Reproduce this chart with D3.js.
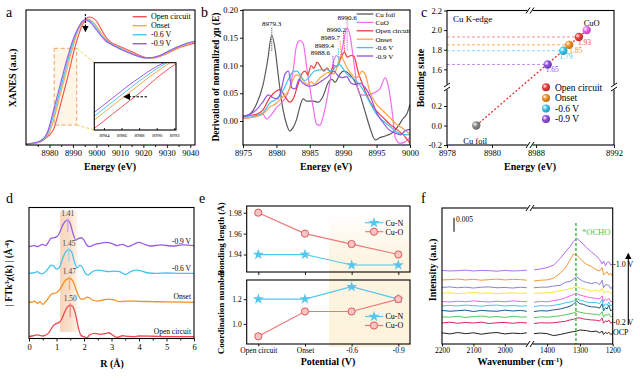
<!DOCTYPE html>
<html>
<head>
<meta charset="utf-8">
<script src="https://cdn.jsdelivr.net/npm/d3@7/dist/d3.min.js"></script>
<style>
html,body{margin:0;padding:0;background:#fff;}
svg{display:block;}
text{font-family:"Liberation Serif","Times New Roman",Times,serif;}
</style>
</head>
<body>
<svg id="fig" width="640" height="380"></svg>
<script>
// ================= DATA =================
// ---- (a) XANES ----
const aNames = ["Open circuit","Onset","-0.6 V","-0.9 V"];
const aE = [8970,8973,8976,8977,8978,8979,8980,8981,8982,8983,8984,8985,8986,8987,8988,8989,8990,8991,8992,8993,8994,8995,8996,8997,8998,9000,9002,9004,9006,9008,9010,9012,9015,9018,9021,9024,9027,9030,9033,9036,9039,9042];
const aOC    = [0.01,0.015,0.03,0.045,0.06,0.08,0.10,0.13,0.17,0.25,0.34,0.43,0.52,0.61,0.70,0.80,0.90,0.99,1.07,1.14,1.20,1.24,1.27,1.28,1.275,1.24,1.16,1.08,1.03,1.005,0.985,0.965,0.935,0.90,0.875,0.87,0.885,0.915,0.95,0.98,1.0,1.02];
const aOnset = [0.01,0.017,0.033,0.05,0.068,0.095,0.13,0.19,0.27,0.36,0.45,0.54,0.63,0.72,0.81,0.90,0.98,1.06,1.13,1.18,1.22,1.25,1.26,1.255,1.24,1.19,1.12,1.06,1.02,0.995,0.97,0.95,0.92,0.89,0.87,0.87,0.89,0.92,0.955,0.985,1.01,1.03];
const a06    = [0.01,0.018,0.037,0.052,0.074,0.11,0.16,0.24,0.32,0.41,0.50,0.59,0.68,0.77,0.86,0.94,1.02,1.09,1.15,1.20,1.235,1.255,1.255,1.245,1.23,1.17,1.10,1.05,1.015,0.99,0.965,0.945,0.915,0.885,0.87,0.875,0.895,0.93,0.965,0.995,1.02,1.04];
const a09    = [0.01,0.02,0.04,0.055,0.08,0.12,0.19,0.28,0.37,0.46,0.55,0.64,0.73,0.82,0.90,0.98,1.05,1.11,1.16,1.20,1.235,1.25,1.245,1.235,1.21,1.15,1.09,1.04,1.01,0.985,0.96,0.94,0.91,0.885,0.87,0.875,0.895,0.93,0.965,0.995,1.02,1.035];
const aTicks = [8980,8990,9000,9010,9020,9030,9040];
const aInsetTicks = [8984,8986,8988,8990,8992];

// ---- (b) derivative ----
const bNames = ["Cu foil","CuO","Open circuit","Onset","-0.6 V","-0.9 V"];
const bCuFoil = [[8975,0.008],[8976,0.012],[8977,0.03],[8978,0.065],[8978.7,0.11],[8979.3,0.155],[8979.8,0.13],[8980.3,0.08],[8981,0.02],[8981.5,-0.005],[8982,-0.018],[8982.5,-0.012],[8983,0.002],[8983.5,0.025],[8984,0.04],[8984.5,0.036],[8985.5,0.036],[8986.3,0.034],[8987,0.045],[8987.7,0.068],[8988.3,0.075],[8988.8,0.07],[8989.4,0.082],[8990,0.09],[8990.6,0.088],[8991.2,0.08],[8991.8,0.07],[8992.5,0.048],[8993.2,0.02],[8994,-0.012],[8994.8,-0.034],[8995.5,-0.03],[8996.5,-0.026],[8997.5,-0.02],[8998.3,-0.008],[8999,0.005],[8999.5,0.012],[9000,0.03]];
const bCuO = [[8975,0.005],[8976,0.006],[8977,0.01],[8978,0.012],[8978.5,0.004],[8979,0.008],[8980,0.024],[8981,0.036],[8982,0.06],[8982.5,0.09],[8983,0.135],[8983.5,0.145],[8984,0.14],[8984.5,0.1],[8985,0.06],[8985.5,0.025],[8986,-0.005],[8986.5,-0.008],[8987,0.008],[8987.5,0.035],[8988,0.07],[8988.5,0.105],[8989,0.118],[8989.5,0.112],[8990,0.14],[8990.6,0.168],[8991,0.155],[8991.5,0.115],[8992,0.07],[8992.5,0.048],[8993.5,0.046],[8994.5,0.05],[8995.5,0.058],[8996.3,0.078],[8996.8,0.06],[8997.3,0.02],[8997.8,-0.03],[8998.5,-0.04],[8999.2,-0.038],[9000,-0.03]];
const bOC = [[8975,0.008],[8976,0.01],[8977,0.012],[8978,0.02],[8979,0.042],[8980,0.054],[8980.6,0.057],[8981.2,0.046],[8982,0.034],[8982.6,0.042],[8983.2,0.065],[8983.8,0.085],[8984.3,0.09],[8984.7,0.083],[8985.2,0.1],[8985.6,0.095],[8986.1,0.106],[8986.6,0.098],[8987.1,0.09],[8987.6,0.096],[8988.1,0.088],[8988.6,0.1],[8989.1,0.098],[8989.6,0.112],[8990.2,0.124],[8990.6,0.115],[8991.2,0.118],[8991.6,0.117],[8992.2,0.09],[8993,0.063],[8994,0.035],[8995,0.018],[8996,0.006],[8997,-0.006],[8998,-0.015],[8999,-0.025],[9000,-0.04]];
const bOnset = [[8975,0.005],[8976,0.006],[8977,0.008],[8978,0.013],[8979,0.025],[8980,0.032],[8981,0.044],[8982,0.058],[8982.5,0.075],[8983,0.083],[8983.6,0.08],[8984.2,0.07],[8984.7,0.066],[8985.2,0.071],[8985.7,0.066],[8986.3,0.075],[8987,0.082],[8987.6,0.087],[8988.1,0.088],[8988.6,0.085],[8989.1,0.098],[8989.7,0.118],[8990.1,0.108],[8990.6,0.095],[8991.2,0.085],[8991.8,0.078],[8992.3,0.08],[8992.8,0.09],[8993.3,0.084],[8994,0.052],[8995,0.03],[8996,0.018],[8997,0.006],[8998,-0.006],[8999,-0.014],[9000,-0.024]];
const b06 = [[8975,0.008],[8976,0.009],[8977,0.01],[8978,0.015],[8979,0.032],[8980,0.04],[8981,0.055],[8982,0.08],[8982.6,0.09],[8983.1,0.09],[8983.6,0.082],[8984.2,0.073],[8984.7,0.076],[8985.2,0.084],[8985.7,0.09],[8986.5,0.092],[8987.5,0.093],[8988.2,0.09],[8988.7,0.096],[8989.4,0.102],[8990,0.094],[8990.5,0.085],[8991,0.08],[8992,0.072],[8993,0.056],[8994,0.033],[8995,0.012],[8996,0.0],[8997,-0.01],[8998,-0.02],[8999,-0.024],[9000,-0.025]];
const b09 = [[8975,0.008],[8976,0.012],[8977,0.02],[8978,0.035],[8978.8,0.047],[8979.5,0.042],[8980.2,0.04],[8980.8,0.06],[8981.3,0.085],[8981.8,0.09],[8982.3,0.06],[8982.8,0.058],[8983.4,0.075],[8984,0.068],[8984.8,0.063],[8985.6,0.064],[8986.3,0.068],[8987,0.074],[8987.7,0.08],[8988.6,0.09],[8989.2,0.082],[8989.8,0.078],[8990.5,0.08],[8991.2,0.068],[8991.8,0.066],[8992.5,0.068],[8993.3,0.06],[8994.2,0.04],[8995,0.015],[8995.8,0.0],[8996.8,-0.015],[8997.8,-0.022],[8998.6,-0.025],[8999.3,-0.017],[9000,-0.015]];
const bPeakE = [8979.3, 8990.6, 8990.2, 8989.7, 8989.4, 8988.6];
const bPeakV = [0.155, 0.168, 0.124, 0.118, 0.102, 0.09];
const bXTicks = [8975,8980,8985,8990,8995,9000];
const bYTicks = [0.00,0.05,0.10,0.15,0.20];

// ---- (c) bonding state ----
const cNames = ["Open circuit","Onset","-0.6 V","-0.9 V"];
const cEnergy = [8990.2, 8989.7, 8989.4, 8988.6];
const cState  = [1.93, 1.85, 1.79, 1.65];
const cRefNames = ["Cu foil","CuO"];
const cRefEnergy = [8979.3, 8990.6];
const cRefState  = [0.0, 2.0];
const cXTicksLeft = [8978, 8980];
const cXTicksRight = [8988, 8992];
const cYTicksUpper = [1.6, 1.8, 2.0, 2.2];
const cYTicksLower = [-0.2, 0.0, 0.2];

// ---- (d) FT-EXAFS ----
const dNames = ["Open circuit","Onset","-0.6 V","-0.9 V"];
const dOC = [[0,0.05],[0.15,0.12],[0.3,0.18],[0.5,0.1],[0.7,0.3],[0.9,0.93],[1.0,1.06],[1.1,1.14],[1.2,1.44],[1.3,1.95],[1.4,2.32],[1.5,2.45],[1.6,2.32],[1.7,1.7],[1.8,0.68],[1.9,0.13],[2.0,0.05],[2.1,-0.05],[2.2,0.18],[2.4,0.3],[2.6,0.23],[2.8,0.3],[2.9,0.35],[3.0,0.23],[3.2,0.0],[3.4,0.12],[3.6,0.08],[3.8,0.05],[4.0,0.1],[4.5,0.08],[5.0,0.05],[5.5,0.05],[6.0,0.05]];
const dOnset = [[0,0.05],[0.1,0.0],[0.2,0.1],[0.3,-0.08],[0.4,0.05],[0.5,-0.15],[0.6,0.05],[0.7,0.3],[0.8,0.6],[0.9,0.68],[1.0,0.73],[1.1,0.93],[1.2,1.26],[1.3,1.62],[1.4,1.79],[1.47,1.84],[1.6,1.62],[1.7,1.06],[1.8,0.5],[1.9,0.25],[2.0,0.25],[2.1,0.4],[2.2,0.35],[2.3,0.18],[2.5,0.1],[2.7,0.18],[2.9,0.25],[3.1,0.18],[3.3,0.05],[3.5,0.1],[4.0,0.08],[4.5,0.05],[5.0,0.03],[6.0,0.0]];
const d06 = [[0,0.05],[0.2,0.1],[0.3,0.18],[0.4,0.05],[0.5,0.03],[0.6,0.18],[0.7,0.43],[0.8,0.68],[0.9,0.6],[1.0,0.38],[1.1,0.48],[1.2,1.06],[1.3,1.57],[1.4,1.82],[1.45,1.87],[1.55,1.69],[1.65,0.93],[1.75,0.48],[1.85,0.68],[1.95,0.48],[2.05,0.05],[2.15,-0.08],[2.3,0.18],[2.5,0.3],[2.7,0.25],[2.9,0.18],[3.1,0.23],[3.3,0.18],[3.5,-0.03],[3.7,0.18],[3.9,0.3],[4.1,0.23],[4.3,0.1],[4.6,0.05],[5.0,0.08],[5.5,0.05],[6.0,0.05]];
const d09 = [[0,0.05],[0.2,0.13],[0.3,0.05],[0.5,0.23],[0.6,0.13],[0.7,0.38],[0.8,0.68],[0.9,0.73],[1.0,0.8],[1.1,1.06],[1.2,1.57],[1.3,1.94],[1.41,2.07],[1.5,1.82],[1.6,1.06],[1.7,0.55],[1.8,0.68],[1.9,0.73],[2.0,0.55],[2.1,0.18],[2.2,0.05],[2.4,0.23],[2.6,0.3],[2.8,0.38],[3.0,0.3],[3.2,0.13],[3.4,0.23],[3.6,0.05],[3.8,0.23],[4.0,0.38],[4.2,0.23],[4.4,0.1],[4.8,0.18],[5.2,0.1],[5.6,0.18],[6.0,0.13]];
const dOffsets = [0.09, 2.76, 4.92, 6.96];
const dPeakR = [1.50, 1.47, 1.45, 1.41];
const dPeakLabels = ["1.50","1.47","1.45","1.41"];
const dXTicks = [0,1,2,3,4,5,6];

// ---- (e) fitting results ----
const eCats = ["Open circuit","Onset","-0.6","-0.9"];
const eLenCuN = [1.94, 1.94, 1.93, 1.93];
const eLenCuO = [1.98, 1.96, 1.95, 1.94];
const eCnCuN  = [1.2, 1.2, 1.3, 1.2];
const eCnCuO  = [0.9, 1.1, 1.1, 1.2];
const eLenTicks = [1.94, 1.96, 1.98];
const eCnTicks = [1.0, 1.2];

// ---- (f) in-situ IR ----
const fLeftW = [2200,2175,2150,2125,2100,2075,2050,2025,2000,1975,1950,1930];
const fRightW = [1440,1420,1400,1380,1360,1345,1330,1320,1310,1300,1290,1280,1265,1250,1240,1232,1228,1222,1217,1212,1206,1200];
const fOffsets = [3.8, 7.5, 9.6, 11.8, 13.6, 15.1, 18.1, 20.1, 22.9, 26.1];
const fLeft = [
 [0.2,-0.2,0.3,-0.1,0.2,-0.3,0.1,0.3,-0.2,0.1,-0.1,0.2],
 [0.0,0.3,-0.1,0.2,0.0,0.3,-0.2,0.1,0.2,-0.1,0.2,0.0],
 [0.1,0.0,0.3,-0.1,0.2,0.4,0.0,0.2,-0.1,0.3,0.0,0.1],
 [0.2,-0.1,0.1,0.3,-0.2,0.2,0.0,-0.1,0.3,0.0,0.2,-0.1],
 [0.0,0.2,0.0,0.3,0.1,-0.1,0.2,0.3,0.0,0.2,-0.1,0.1],
 [0.1,-0.1,0.2,0.0,0.3,0.1,-0.1,0.2,0.0,0.3,0.1,0.0],
 [0.0,0.2,-0.1,0.1,0.3,0.0,0.2,-0.1,0.1,0.2,0.0,0.1],
 [0.1,0.3,0.0,0.2,-0.1,0.2,0.3,0.0,0.1,-0.1,0.2,0.0],
 [0.0,0.1,0.3,0.0,0.2,-0.1,0.1,0.3,0.0,0.2,0.1,-0.1],
 [0.2,0.0,0.1,0.3,0.0,0.2,0.1,-0.1,0.2,0.0,0.1,0.3]
];
const fRight = [
 [-0.1,0.1,-0.1,-0.8,-0.4,0.0,0.4,0.6,0.8,1.2,1.1,1.0,0.6,0.8,0.2,0.8,-0.4,0.4,-0.1,0.4,-0.4,0.0],
 [-0.2,0.1,0.0,0.1,0.4,0.6,1.1,1.3,1.8,1.8,1.5,1.3,1.1,1.0,0.7,1.8,-0.1,0.8,0.4,1.1,-0.1,0.4],
 [-0.2,0.1,0.0,0.2,0.5,0.8,1.2,1.5,2.0,1.8,1.5,1.3,1.1,1.0,0.7,2.0,0.0,1.0,0.6,1.2,0.1,0.4],
 [-0.2,0.1,0.0,0.4,0.7,1.2,1.7,2.4,3.6,2.6,2.4,1.9,1.5,1.4,1.0,2.6,0.0,1.2,0.7,2.1,0.0,0.7],
 [-0.2,0.1,0.0,0.2,0.6,1.1,1.4,1.7,2.6,2.0,1.8,1.4,1.2,1.2,0.8,2.4,-0.4,0.8,0.2,1.4,0.0,0.5],
 [-0.2,0.1,0.0,0.4,0.8,1.4,2.1,2.6,2.9,2.4,2.1,1.8,1.4,1.2,1.0,2.1,0.0,1.0,0.5,1.2,0.0,0.2],
 [0.0,0.1,0.2,0.4,1.0,1.2,1.7,1.9,2.4,1.9,1.7,1.3,0.8,1.2,0.6,1.8,0.0,0.8,0.4,0.8,0.0,0.4],
 [0.0,0.2,0.2,0.6,0.9,1.9,2.3,3.0,3.9,3.0,2.3,1.9,1.5,1.9,1.1,2.7,0.0,1.1,1.0,0.9,-0.3,0.3],
 [-0.4,-0.1,0.0,0.6,2.4,4.2,7.1,9.2,9.0,7.7,6.5,5.6,4.8,3.6,3.2,4.4,1.8,2.4,2.9,1.8,2.4,1.2],
 [0.4,0.7,1.2,2.1,4.5,6.7,8.7,10.5,11.7,10.7,9.6,8.4,6.8,5.4,4.1,2.5,3.6,1.9,3.0,3.3,2.1,2.5]
];
const fOCHO = 1312;
const fTicksLeft = [2200, 2100, 2000];
const fTicksRight = [1400, 1300, 1200];

// ================= DRAWING =================
const FONT = '"Liberation Serif","Times New Roman",Times,serif';
const col4 = ["#f0525a","#f8a94a","#52c6f0","#9a5ae6"];
const svg = d3.select("#fig");
svg.append("rect").attr("width",640).attr("height",380).attr("fill","#fff");
const defs = svg.append("defs");

function clip(id,x0,y0,x1,y1){ defs.append("clipPath").attr("id",id).append("rect").attr("x",x0).attr("y",y0).attr("width",x1-x0).attr("height",y1-y0); return `url(#${id})`; }
function frame(x0,y0,x1,y1){ return svg.append("rect").attr("x",x0).attr("y",y0).attr("width",x1-x0).attr("height",y1-y0).attr("fill","none").attr("stroke","#000").attr("stroke-width",1.1); }
function T(x,y,s,o={}){ const t=svg.append("text").attr("x",x).attr("y",y).attr("font-size",o.size||8).attr("fill",o.fill||"#000").attr("text-anchor",o.anchor||"start").text(s); if(o.bold) t.attr("font-weight","bold"); if(o.rot!==undefined) t.attr("transform",`rotate(${o.rot},${x},${y})`); return t; }
function styleAxis(g,size){ g.select(".domain").remove(); g.selectAll(".tick line").attr("stroke","#000").attr("stroke-width",0.9); g.selectAll(".tick text").attr("font-size",size).attr("fill","#000").attr("font-family",FONT); }
function axisB(scale,y,vals,fmt,size,len,pad){ return svg.append("g").attr("transform",`translate(0,${y})`).call(d3.axisBottom(scale).tickValues(vals).tickSize(len||3).tickPadding(pad===undefined?2:pad).tickFormat(fmt)).call(styleAxis,size); }
function axisL(scale,x,vals,fmt,size,len){ return svg.append("g").attr("transform",`translate(${x},0)`).call(d3.axisLeft(scale).tickValues(vals).tickSize(len||3).tickPadding(2).tickFormat(fmt)).call(styleAxis,size); }
const fmtN = p => (d => d.toFixed(p));
const none = () => "";
function marker(id,color){ defs.append("marker").attr("id",id).attr("viewBox","0 0 10 10").attr("refX",5).attr("refY",5).attr("markerWidth",6).attr("markerHeight",6).attr("orient","auto").append("path").attr("d","M0,0L10,5L0,10z").attr("fill",color); }
marker("arrK","#000");
function sphere(id,color){ const g=defs.append("radialGradient").attr("id",id).attr("cx","35%").attr("cy","35%").attr("r","65%"); g.append("stop").attr("offset","0%").attr("stop-color","#fff"); g.append("stop").attr("offset","45%").attr("stop-color",color); g.append("stop").attr("offset","100%").attr("stop-color",d3.color(color).darker(0.8)); return `url(#${id})`; }
function brkV(x,y){ svg.append("rect").attr("x",x-2.5).attr("y",y-2).attr("width",5).attr("height",4).attr("fill","#fff"); [-2,2].forEach(d=>svg.append("line").attr("x1",x+d-2).attr("y1",y+3).attr("x2",x+d+2).attr("y2",y-3).attr("stroke","#000").attr("stroke-width",1)); }
function brkH(x,y){ svg.append("rect").attr("x",x-2).attr("y",y-2.5).attr("width",4).attr("height",5).attr("fill","#fff"); [-2,2].forEach(d=>svg.append("line").attr("x1",x-3).attr("y1",y+d+2).attr("x2",x+3).attr("y2",y+d-2).attr("stroke","#000").attr("stroke-width",1)); }

// ---------- (a) ----------
{
 const xa = d3.scaleLinear().domain([8970,9042]).range([26,195]);
 const ya = d3.scaleLinear().domain([0,1.35]).range([145,10]);
 const cp = clip("clipA",26,10,195,145);
 svg.append("rect").attr("x",xa(8982)).attr("y",ya(0.967)).attr("width",xa(8991.6)-xa(8982)).attr("height",ya(0.2)-ya(0.967))
   .attr("fill","#fef6e6").attr("stroke","#f6a060").attr("stroke-width",1).attr("stroke-dasharray","4,2.5");
 const g = svg.append("g").attr("clip-path",cp);
 const aSer = [aOC,aOnset,a06,a09];
 const ln = d3.line().x(d=>xa(d[0])).y(d=>ya(d[1])).curve(d3.curveMonotoneX);
 aSer.forEach((v,i)=>g.append("path").datum(aE.map((e,j)=>[e,v[j]])).attr("d",ln).attr("fill","none").attr("stroke",col4[i]).attr("stroke-width",1.1));
 const ix0=94.3, iy0=62.7, ix1=176, iy1=130;
 svg.append("line").attr("x1",xa(8991.6)).attr("y1",ya(0.967)).attr("x2",ix0).attr("y2",iy0).attr("stroke","#f5c642").attr("stroke-width",1).attr("stroke-dasharray","3,2");
 svg.append("line").attr("x1",xa(8991.6)).attr("y1",ya(0.2)).attr("x2",ix0).attr("y2",iy1).attr("stroke","#f5c642").attr("stroke-width",1).attr("stroke-dasharray","3,2");
 svg.append("rect").attr("x",ix0).attr("y",iy0).attr("width",ix1-ix0).attr("height",iy1-iy0).attr("fill","#fff");
 const xi = d3.scaleLinear().domain([8982.9,8992.2]).range([ix0,ix1]);
 const yi = d3.scaleLinear().domain([0.22,1.1]).range([iy1,iy0]);
 const cpi = clip("clipAi",ix0,iy0,ix1,iy1);
 const gi = svg.append("g").attr("clip-path",cpi);
 const lni = d3.line().x(d=>xi(d[0])).y(d=>yi(d[1])).curve(d3.curveMonotoneX);
 aSer.forEach((v,i)=>gi.append("path").datum(aE.map((e,j)=>[e,v[j]])).attr("d",lni).attr("fill","none").attr("stroke",col4[i]).attr("stroke-width",1));
 frame(ix0,iy0,ix1,iy1);
 svg.append("g").attr("transform",`translate(0,${iy1})`).call(d3.axisBottom(xi).tickValues(aInsetTicks).tickSize(-2).tickPadding(3).tickFormat(d3.format("d"))).call(styleAxis,5);
 svg.append("line").attr("x1",xi(8988.9)).attr("x2",xi(8986.6)).attr("y1",yi(0.655)).attr("y2",yi(0.655)).attr("stroke","#000").attr("stroke-width",1.2).attr("stroke-dasharray","2.5,1.5").attr("marker-end","url(#arrK)");
 svg.append("line").attr("x1",xa(8995.3)).attr("x2",xa(8995.3)).attr("y1",ya(1.31)).attr("y2",ya(1.16)).attr("stroke","#000").attr("stroke-width",1.1).attr("stroke-dasharray","2,1.5").attr("marker-end","url(#arrK)");
 frame(26,10,195,145);
 axisB(xa,145,aTicks,d3.format("d"),8.5,3);
 axisB(xa,145,[8975,8985,8995,9005,9015,9025,9035],none,8.5,2);
 aNames.forEach((n,i)=>{ const y=16.7+9*i; svg.append("line").attr("x1",132.7).attr("x2",146.7).attr("y1",y).attr("y2",y).attr("stroke",col4[i]).attr("stroke-width",1.4); T(151,y+2.7,n,{size:8}); });
 T(16,78,"XANES (a.u.)",{size:10,bold:true,anchor:"middle",rot:-90});
 T(110,170,"Energy (eV)",{size:10,bold:true,anchor:"middle"});
 T(6,17,"a",{size:14});
}

// ---------- (b) ----------
{
 const xb = d3.scaleLinear().domain([8975,9000]).range([243,410]);
 const yb = d3.scaleLinear().domain([-0.0432,0.2]).range([145,10]);
 const cp = clip("clipB",243,10,410,145);
 const g = svg.append("g").attr("clip-path",cp);
 const bCols = ["#5a5a5a","#f46cf0","#f23a3a","#f9a440","#3fc4f0","#9050e6"];
 const bSer = [bCuFoil,bCuO,bOC,bOnset,b06,b09];
 const ln = d3.line().x(d=>xb(d[0])).y(d=>yb(d[1])).curve(d3.curveMonotoneX);
 bSer.forEach((s,i)=>g.append("path").datum(s).attr("d",ln).attr("fill","none").attr("stroke",bCols[i]).attr("stroke-width",1.2));
 svg.append("line").attr("x1",xb(bPeakE[0])).attr("x2",xb(bPeakE[0])).attr("y1",yb(0.168)).attr("y2",yb(0.126)).attr("stroke","#777").attr("stroke-width",1.2).attr("stroke-dasharray","1.2,1");
 svg.append("line").attr("x1",xb(bPeakE[1])).attr("x2",xb(bPeakE[1])).attr("y1",yb(0.182)).attr("y2",yb(0.126)).attr("stroke","#f46cf0").attr("stroke-width",1.2).attr("stroke-dasharray","1.2,1");
 T(xb(bPeakE[0]),26,"8979.3",{size:7,anchor:"middle"});
 T(xb(bPeakE[1]),19.5,"8990.6",{size:7,anchor:"middle"});
 const lblEnd = [346, 340, 334, 330];
 const lblY = [31.5, 40, 47.5, 55];
 [2,3,4,5].forEach((k,j)=>{
   T(lblEnd[j],lblY[j],bPeakE[k].toFixed(1),{size:7,anchor:"end"});
   svg.append("line").attr("x1",xb(bPeakE[k])-1).attr("y1",lblY[j]+1).attr("x2",xb(bPeakE[k])).attr("y2",Math.max(yb(bPeakV[k]),lblY[j]+6)).attr("stroke",bCols[k]).attr("stroke-width",1).attr("stroke-dasharray","1.5,1");
 });
 frame(243,10,410,145);
 axisB(xb,145,bXTicks,d3.format("d"),8.5,3);
 axisL(yb,243,bYTicks,fmtN(2),8.5,3);
 bNames.forEach((n,i)=>{ const y=14+8.4*i; svg.append("line").attr("x1",356.7).attr("x2",373.3).attr("y1",y).attr("y2",y).attr("stroke",bCols[i]).attr("stroke-width",1.3); T(375.5,y+2.5,n,{size:7}); });
 T(219,77,"Derivation of normalized χμ (E)",{size:9.5,bold:true,anchor:"middle",rot:-90});
 T(326,170,"Energy (eV)",{size:10,bold:true,anchor:"middle"});
 T(201,17,"b",{size:14});
}

// ---------- (c) ----------
{
 const xc1 = d3.scaleLinear().domain([8978,8981.6]).range([447,528]);
 const xc2 = d3.scaleLinear().domain([8987.8,8992]).range([532.1,614]);
 const xc = e => e < 8985 ? xc1(e) : xc2(e);
 const yc1 = d3.scaleLinear().domain([1.42,2.2]).range([87,10.5]);
 const yc2 = d3.scaleLinear().domain([-0.2,0.395]).range([145,87]);
 const yc = v => v > 1 ? yc1(v) : yc2(v);
 const cCols = ["#f03c3c","#f7941d","#3cc8f0","#9050e0"];
 const cLight = ["#f59090","#f7b060","#8ad8f5","#b890ee"];
 cState.forEach((s,i)=>svg.append("line").attr("x1",447).attr("x2",xc(cEnergy[i])).attr("y1",yc(s)).attr("y2",yc(s)).attr("stroke",cLight[i]).attr("stroke-width",1).attr("stroke-dasharray","3,2"));
 svg.append("line").attr("x1",xc(cRefEnergy[0])).attr("y1",yc(cRefState[0])).attr("x2",xc(cRefEnergy[1])).attr("y2",yc(cRefState[1])).attr("stroke","#e03038").attr("stroke-width",1.3).attr("stroke-dasharray","2,2");
 const refCols = ["#8a8a8a","#f060f0"];
 cRefEnergy.forEach((e,i)=>svg.append("circle").attr("cx",xc(e)).attr("cy",yc(cRefState[i])).attr("r",4.2).attr("fill",sphere("sr"+i,refCols[i])));
 cEnergy.forEach((e,i)=>svg.append("circle").attr("cx",xc(e)).attr("cy",yc(cState[i])).attr("r",4.2).attr("fill",sphere("sc"+i,cCols[i])));
 const lblDx = [-1, 0, -4, -2];
 cState.forEach((s,i)=>T(xc(cEnergy[i])+lblDx[i],yc(s)+8,s.toFixed(2),{size:7.5,fill:cCols[i]}));
 T(xc(cRefEnergy[1])-3,yc(2.0)-4,"CuO",{size:8.5});
 T(xc(cRefEnergy[0])-13,yc(0)+18,"Cu foil",{size:8.5});
 T(453,22,"Cu K-edge",{size:9});
 frame(447,10.5,614,145);
 axisB(xc1,145,cXTicksLeft,d3.format("d"),8.5,3);
 axisB(xc2,145,cXTicksRight,d3.format("d"),8.5,3);
 axisL(yc1,447,cYTicksUpper,fmtN(1),8.5,3);
 axisL(yc2,447,cYTicksLower,fmtN(1),8.5,3);
 brkV(530,10.5); brkV(530,145); brkH(447,87); brkH(614,87);
 cNames.forEach((n,i)=>{ const y=87.3+10.6*i; svg.append("circle").attr("cx",546).attr("cy",y).attr("r",4).attr("fill",sphere("sl"+i,cCols[i])); T(555,y+3.2,n,{size:9.5}); });
 T(424,78,"Bonding state",{size:10,bold:true,anchor:"middle",rot:-90});
 T(530,170,"Energy (eV)",{size:10,bold:true,anchor:"middle"});
 T(421,16.5,"c",{size:14});
}

// ---------- (d) ----------
{
 const xd = d3.scaleLinear().domain([0,6]).range([29,194]);
 const yd = d3.scaleLinear().domain([0,10]).range([338.5,207.5]);
 const grad = defs.append("linearGradient").attr("id","gd").attr("x1","0").attr("x2","1").attr("y1","0").attr("y2","0");
 grad.append("stop").attr("offset","0%").attr("stop-color","#f7cdb0").attr("stop-opacity",0.85);
 grad.append("stop").attr("offset","60%").attr("stop-color","#f8d9c0").attr("stop-opacity",0.8);
 grad.append("stop").attr("offset","100%").attr("stop-color","#fbe6d2").attr("stop-opacity",0.5);
 svg.append("rect").attr("x",xd(1.13)).attr("y",211).attr("width",xd(1.76)-xd(1.13)).attr("height",121).attr("fill","url(#gd)");
 const dCols = ["#f0484e","#f4901e","#45c3ee","#9b5de5"];
 const dLight = ["#f38a80","#f7b060","#9ad9f2","#c4a2ee"];
 const dSer = [dOC,dOnset,d06,d09];
 const cp = clip("clipD",29,207.5,194,338.5);
 const g = svg.append("g").attr("clip-path",cp);
 dSer.forEach((s,i)=>{
   const ln = d3.line().x(d=>xd(d[0])).y(d=>yd(d[1]+dOffsets[i])).curve(d3.curveMonotoneX);
   g.append("path").datum(s).attr("d",ln).attr("fill","none").attr("stroke",dCols[i]).attr("stroke-width",1.3);
   const pk = s.find(p=>p[0]===dPeakR[i]);
   const py = yd(pk[1]+dOffsets[i]);
   svg.append("line").attr("x1",xd(dPeakR[i])).attr("x2",xd(dPeakR[i])).attr("y1",py-2).attr("y2",py+12).attr("stroke",dLight[i]).attr("stroke-width",1.3);
   T(xd(dPeakR[i]),py-4,dPeakLabels[i],{size:7.5,anchor:"middle",fill:"#444"});
   T(191,yd(dOffsets[i])-3,dNames[i],{size:7.5,anchor:"end"});
 });
 frame(29,207.5,194,338.5);
 axisB(xd,338.5,dXTicks,d3.format("d"),8.5,3);
 axisB(xd,338.5,[0.5,1.5,2.5,3.5,4.5,5.5],none,8.5,2);
 const yl = svg.append("text").attr("x",12).attr("y",273).attr("font-size",9.5).attr("font-weight","bold").attr("text-anchor","middle").attr("transform","rotate(-90,12,273)");
 yl.append("tspan").text("| FTk");
 yl.append("tspan").attr("dy",-3).attr("font-size",6.5).text("3");
 yl.append("tspan").attr("dy",3).text("χ(k) | (Å");
 yl.append("tspan").attr("dy",-3).attr("font-size",6.5).text("-4");
 yl.append("tspan").attr("dy",3).text(")");
 T(112,366.5,"R (Å)",{size:10,bold:true,anchor:"middle"});
 T(6,203,"d",{size:14});
}

// ---------- (e) ----------
{
 const xe = d3.scalePoint().domain(eCats).range([258.3,398.3]);
 const yTop = d3.scaleLinear().domain([1.9233,1.9864]).range([272,206]);
 const yBot = d3.scaleLinear().domain([0.838,1.354]).range([344,280]);
 const gr = defs.append("linearGradient").attr("id","ge").attr("x1","0").attr("x2","0").attr("y1","0").attr("y2","1");
 gr.append("stop").attr("offset","0%").attr("stop-color","#fdf2da").attr("stop-opacity",0);
 gr.append("stop").attr("offset","35%").attr("stop-color","#fdf2da").attr("stop-opacity",0.8);
 gr.append("stop").attr("offset","100%").attr("stop-color","#fdf3dc").attr("stop-opacity",1);
 svg.append("rect").attr("x",329).attr("y",212).attr("width",82).attr("height",135).attr("fill","url(#ge)");
 const cN = "#55c6ee", cO = "#ee7878";
 function draw(ys, nVals, oVals){
   const ln = d3.line().x((d,i)=>xe(eCats[i])).y(d=>ys(d));
   svg.append("path").datum(nVals).attr("d",ln).attr("fill","none").attr("stroke",cN).attr("stroke-width",1.2);
   svg.append("path").datum(oVals).attr("d",ln).attr("fill","none").attr("stroke",cO).attr("stroke-width",1.2);
   nVals.forEach((v,i)=>svg.append("path").attr("d",d3.symbol(d3.symbolStar,38)()).attr("transform",`translate(${xe(eCats[i])},${ys(v)})`).attr("fill",cN));
   oVals.forEach((v,i)=>svg.append("circle").attr("cx",xe(eCats[i])).attr("cy",ys(v)).attr("r",3.6).attr("fill","#f8c4c4").attr("stroke","#e05858").attr("stroke-width",1));
 }
 draw(yTop,eLenCuN,eLenCuO);
 draw(yBot,eCnCuN,eCnCuO);
 frame(246.7,206,410,272);
 frame(246.7,280,410,344);
 axisL(yTop,246.7,eLenTicks,fmtN(2),7.5,3);
 axisL(yBot,246.7,eCnTicks,fmtN(1),7.5,3);
 axisB(xe,272,eCats,none,8,3);
 axisB(xe,344,eCats,d=>d,7.5,2.5,1);
 function leg(y0,dy){
   svg.append("line").attr("x1",365).attr("x2",383.3).attr("y1",y0).attr("y2",y0).attr("stroke",cN).attr("stroke-width",1.2);
   svg.append("path").attr("d",d3.symbol(d3.symbolStar,38)()).attr("transform",`translate(374,${y0})`).attr("fill",cN);
   T(385.5,y0+2.8,"Cu-N",{size:8});
   svg.append("line").attr("x1",365).attr("x2",383.3).attr("y1",y0+dy).attr("y2",y0+dy).attr("stroke",cO).attr("stroke-width",1.2);
   svg.append("circle").attr("cx",374).attr("cy",y0+dy).attr("r",3.6).attr("fill","#f8c4c4").attr("stroke","#e05858");
   T(385.5,y0+dy+2.8,"Cu-O",{size:8});
 }
 leg(222.7,9); leg(316.5,9);
 T(224,239,"Bonding length (Å)",{size:9,bold:true,anchor:"middle",rot:-90});
 T(224,312,"Coordination number",{size:9,bold:true,anchor:"middle",rot:-90});
 T(328,365,"Potential (V)",{size:10,bold:true,anchor:"middle"});
 T(199,203,"e",{size:14});
}

// ---------- (f) ----------
{
 const xL = d3.scaleLinear().domain([2200,1920]).range([442,530]);
 const xR = d3.scaleLinear().domain([1452,1200]).range([530,612.7]);
 const yf = d3.scaleLinear().domain([0,48.6]).range([344,208]);
 const fCols = ["#222222","#e0245e","#52c95a","#15627f","#3ccbf0","#f064ea","#f5e642","#8484d8","#f5963a","#b070f0"];
 fOffsets.forEach((off,i)=>{
   const lnL = d3.line().x(d=>xL(d[0])).y(d=>yf(d[1]+off));
   const lnR = d3.line().x(d=>xR(d[0])).y(d=>yf(d[1]+off));
   svg.append("path").datum(fLeftW.map((w,j)=>[w,fLeft[i][j]])).attr("d",lnL).attr("fill","none").attr("stroke",fCols[i]).attr("stroke-width",1);
   svg.append("path").datum(fRightW.map((w,j)=>[w,fRight[i][j]])).attr("d",lnR).attr("fill","none").attr("stroke",fCols[i]).attr("stroke-width",1);
 });
 svg.append("line").attr("x1",xR(fOCHO)).attr("x2",xR(fOCHO)).attr("y1",223).attr("y2",344).attr("stroke","#4cc24c").attr("stroke-width",1.6).attr("stroke-dasharray","3,2");
 T(582,235,"*OCHO",{size:8.5,fill:"#4cc24c"});
 svg.append("line").attr("x1",454).attr("x2",454).attr("y1",yf(45.1)).attr("y2",yf(45.1-5)).attr("stroke","#000").attr("stroke-width",1);
 T(456,222,"0.005",{size:7.5});
 frame(442,208,612.7,344);
 axisB(xL,344,fTicksLeft,d3.format("d"),7.5,2.5,1);
 axisB(xR,344,fTicksRight,d3.format("d"),7.5,2.5,1);
 brkV(530,208); brkV(530,344);
 T(613,267,"-1.0 V",{size:8});
 T(613,324.5,"-0.2 V",{size:8});
 T(613,334.5,"OCP",{size:8});
 svg.append("line").attr("x1",628.3).attr("x2",628.3).attr("y1",325).attr("y2",256).attr("stroke","#000").attr("stroke-width",1.1).attr("marker-end","url(#arrK)");
 T(436,270,"Intensity (a.u.)",{size:10,bold:true,anchor:"middle",rot:-90});
 const xlab = svg.append("text").attr("x",520).attr("y",365).attr("font-size",10).attr("font-weight","bold").attr("text-anchor","middle");
 xlab.append("tspan").text("Wavenumber (cm");
 xlab.append("tspan").attr("dy",-3.5).attr("font-size",6.5).text("-1");
 xlab.append("tspan").attr("dy",3.5).text(")");
 T(421,203,"f",{size:14});
}
</script>
</body>
</html>
